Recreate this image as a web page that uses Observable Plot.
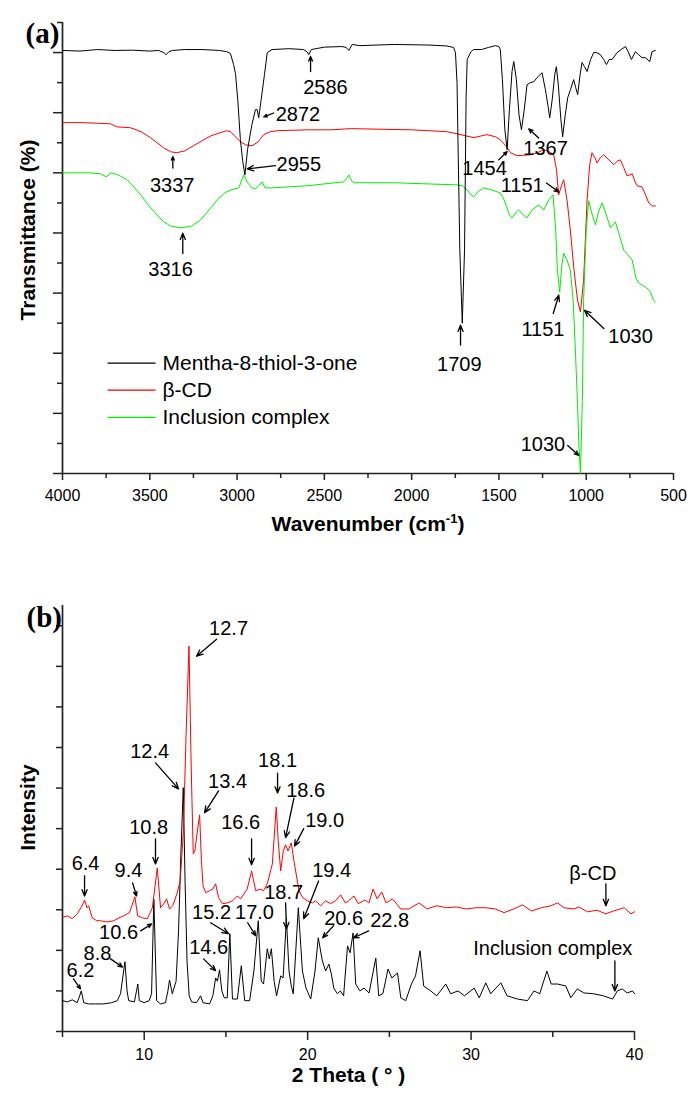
<!DOCTYPE html>
<html><head><meta charset="utf-8">
<script src="https://cdn.jsdelivr.net/npm/d3@7"></script>
<script src="https://cdn.jsdelivr.net/npm/@observablehq/plot@0.6"></script>
<style>body{margin:0;background:#fff;} svg{display:block;}</style>
</head><body><div id="chart"></div>
<script>
// ---------- FTIR (panel a): [wavenumber, transmittance units] ----------
const ftirMentha = [[4000,14.07],[3900,14.05],[3800,14.1],[3700,14.07],[3600,14.08],[3500,14.05],[3450,14.07],[3420,14.0],[3406,13.93],[3390,14.03],[3370,14.07],[3300,14.1],[3200,14.1],[3100,14.07],[3060,14.03],[3038,13.97],[3020,13.6],[3009,13.3],[2996,12.43],[2981,11.1],[2968,10.4],[2955,9.93],[2940,10.77],[2915,11.6],[2895,12.1],[2885,12.1],[2876,11.83],[2862,12.43],[2843,13.27],[2827,14.0],[2800,14.1],[2700,14.13],[2620,14.1],[2600,14.03],[2589,13.93],[2575,14.1],[2500,14.18],[2400,14.2],[2375,14.17],[2360,14.07],[2340,14.27],[2300,14.23],[2100,14.27],[1900,14.25],[1800,14.22],[1760,14.17],[1749,14.0],[1740,13.0],[1724,7.43],[1710,5.0],[1697,7.43],[1688,12.5],[1682,13.77],[1660,14.03],[1645,14.1],[1600,14.1],[1560,14.17],[1520,14.23],[1500,14.2],[1492,14.1],[1480,13.1],[1466,11.43],[1453,10.77],[1440,12.1],[1425,13.37],[1415,13.7],[1400,13.1],[1385,11.93],[1371,11.43],[1355,12.1],[1339,12.93],[1320,13.0],[1300,13.03],[1281,13.17],[1253,13.33],[1234,12.77],[1220,12.27],[1209,11.83],[1195,12.43],[1180,13.27],[1171,13.53],[1160,12.93],[1145,11.77],[1135,11.2],[1120,11.93],[1106,12.5],[1090,12.77],[1072,13.1],[1060,12.83],[1049,12.6],[1035,13.27],[1024,13.67],[1010,13.53],[995,13.37],[975,13.77],[957,14.0],[940,14.0],[919,13.93],[900,13.77],[884,13.6],[868,13.77],[852,13.77],[823,14.0],[800,14.1],[775,14.2],[760,14.03],[741,13.77],[718,14.03],[700,13.93],[680,13.83],[661,13.83],[636,13.7],[623,14.03],[604,14.07]];
const ftirBetaCD = [[4000,11.67],[3900,11.67],[3800,11.65],[3725,11.63],[3690,11.53],[3611,11.5],[3550,11.37],[3496,11.17],[3458,11.0],[3420,10.83],[3381,10.7],[3345,10.67],[3300,10.73],[3250,10.9],[3200,11.07],[3150,11.23],[3100,11.33],[3060,11.4],[3038,11.37],[3010,11.2],[2980,11.03],[2950,10.93],[2914,10.9],[2880,11.03],[2847,11.27],[2810,11.37],[2770,11.4],[2600,11.43],[2465,11.43],[2350,11.47],[2000,11.43],[1800,11.37],[1740,11.3],[1690,11.23],[1644,11.17],[1600,11.23],[1568,11.27],[1520,11.2],[1492,11.1],[1460,10.9],[1434,10.67],[1396,10.57],[1320,10.6],[1280,10.67],[1243,10.77],[1210,10.7],[1186,10.6],[1170,10.1],[1158,9.27],[1140,9.6],[1129,9.77],[1110,9.1],[1091,8.1],[1070,6.77],[1050,5.77],[1033,5.37],[1015,6.43],[995,9.1],[980,10.27],[967,10.67],[950,10.5],[938,10.33],[920,10.5],[900,10.6],[870,10.43],[842,10.27],[820,10.4],[804,10.43],[785,10.17],[766,9.9],[750,9.93],[737,9.97],[720,9.7],[709,9.57],[680,9.53],[660,9.27],[642,9.0],[620,8.9],[604,8.9]];
const ftirComplex = [[4000,10.0],[3850,10.0],[3782,9.97],[3750,9.87],[3720,10.0],[3680,9.93],[3630,9.77],[3590,9.53],[3553,9.27],[3500,8.87],[3458,8.6],[3420,8.37],[3381,8.23],[3320,8.17],[3260,8.23],[3210,8.43],[3160,8.77],[3114,9.1],[3070,9.33],[3038,9.43],[2990,9.5],[2962,9.93],[2940,9.67],[2915,9.5],[2895,9.47],[2876,9.57],[2856,9.7],[2840,9.5],[2800,9.5],[2600,9.57],[2389,9.7],[2370,9.83],[2360,9.93],[2340,9.7],[2322,9.67],[2100,9.67],[1900,9.63],[1740,9.6],[1710,9.57],[1682,9.43],[1660,9.27],[1644,9.2],[1620,9.37],[1587,9.5],[1540,9.43],[1492,9.33],[1470,9.1],[1440,8.6],[1425,8.5],[1400,8.7],[1387,8.77],[1360,8.6],[1339,8.5],[1310,8.77],[1272,8.93],[1243,8.77],[1215,9.1],[1190,9.27],[1175,8.1],[1165,6.77],[1152,6.03],[1140,6.9],[1129,7.33],[1110,7.1],[1091,6.77],[1075,5.77],[1062,4.1],[1050,2.33],[1043,1.1],[1033,0.0],[1022,2.43],[1015,5.77],[1000,8.1],[986,9.07],[965,8.6],[947,8.27],[930,8.7],[909,9.0],[885,8.6],[861,8.17],[833,8.37],[810,7.93],[785,7.43],[760,7.27],[737,7.1],[715,6.5],[699,6.33],[680,6.27],[661,6.2],[645,6.13],[632,6.03],[615,5.77],[604,5.7]];
const ftirSeries = ["Mentha-8-thiol-3-one", "β-CD", "Inclusion complex"];
const ftirXMajor = [4000, 3500, 3000, 2500, 2000, 1500, 1000, 500];
const ftirXMinor = [3750, 3250, 2750, 2250, 1750, 1250, 750];
const ftirYMajor = [0, 2, 4, 6, 8, 10, 12, 14];
const ftirYMinor = [1, 3, 5, 7, 9, 11, 13, 15];
const ftirNotes = [
  {label:"2586", x:2494, y:12.82, x1:2579, y1:13.37, x2:2579, y2:13.87},
  {label:"2872", x:2651, y:11.93, x1:2790, y1:11.99, x2:2847, y2:11.86},
  {label:"3337", x:3372, y:9.57, x1:3368, y1:10.16, x2:3368, y2:10.54},
  {label:"2955", x:2646, y:10.27, x1:2780, y1:10.24, x2:2942, y2:10.13},
  {label:"3316", x:3381, y:6.77, x1:3311, y1:7.32, x2:3311, y2:7.99},
  {label:"1454", x:1582, y:10.13, x1:1501, y1:10.43, x2:1453, y2:10.71},
  {label:"1367", x:1233, y:10.8, x1:1272, y1:11.16, x2:1329, y2:11.46},
  {label:"1151", x:1367, y:9.57, x1:1228, y1:9.66, x2:1157, y2:9.36},
  {label:"1151", x:1248, y:4.8, x1:1189, y1:5.32, x2:1157, y2:5.93},
  {label:"1030", x:746, y:4.57, x1:899, y1:4.82, x2:1010, y2:5.43},
  {label:"1709", x:1727, y:3.63, x1:1720, y1:4.27, x2:1720, y2:4.93},
  {label:"1030", x:1248, y:0.97, x1:1106, y1:0.93, x2:1042, y2:0.6}
];
const ftirLegend = [
  {name:"Mentha-8-thiol-3-one", y:3.67},
  {name:"β-CD", y:2.77},
  {name:"Inclusion complex", y:1.87}
];

// ---------- XRD (panel b): [2theta, intensity units] ----------
const xrdComplex = [[5.0,0.76],[5.3,0.73],[5.6,0.78],[5.9,0.71],[6.05,0.88],[6.15,1.0],[6.3,0.71],[6.6,0.68],[7.0,0.68],[7.5,0.68],[8.0,0.71],[8.35,0.76],[8.55,0.93],[8.7,1.37],[8.82,1.72],[8.95,1.0],[9.05,0.76],[9.4,0.73],[9.61,1.17],[9.7,0.76],[10.0,0.71],[10.3,0.76],[10.45,0.93],[10.59,3.26],[10.76,0.76],[11.0,0.68],[11.3,0.71],[11.45,1.0],[11.55,1.27],[11.72,0.93],[11.95,1.24],[12.1,2.48],[12.25,4.45],[12.39,6.01],[12.5,3.71],[12.62,1.74],[12.75,0.88],[12.9,0.73],[13.2,0.71],[13.45,0.88],[13.6,0.71],[14.0,0.68],[14.2,0.88],[14.37,1.32],[14.48,1.24],[14.61,1.52],[14.75,1.0],[14.9,0.83],[15.08,0.83],[15.24,2.41],[15.4,0.8],[15.7,0.8],[15.94,1.62],[16.15,0.76],[16.45,0.76],[16.71,1.49],[16.98,2.73],[17.16,1.24],[17.3,1.17],[17.53,2.04],[17.65,1.79],[17.78,2.04],[17.95,1.24],[18.1,0.88],[18.35,1.37],[18.5,1.32],[18.7,2.78],[18.86,1.49],[19.0,1.12],[19.12,0.93],[19.43,3.05],[19.68,1.49],[19.9,1.07],[20.19,0.8],[20.45,1.49],[20.65,2.31],[20.9,1.74],[21.1,1.49],[21.3,1.66],[21.45,1.42],[21.6,1.07],[21.82,0.93],[22.0,1.0],[22.2,0.88],[22.44,2.11],[22.6,1.94],[22.78,2.43],[22.94,1.17],[23.2,1.0],[23.45,1.07],[23.76,0.95],[24.17,1.81],[24.35,0.88],[24.6,0.93],[24.92,1.54],[25.15,1.32],[25.5,1.44],[25.7,0.83],[26.0,0.76],[26.35,1.17],[26.6,1.37],[26.88,1.99],[27.1,1.12],[27.53,1.0],[27.9,0.88],[28.45,1.17],[28.75,0.93],[29.2,1.0],[29.6,0.88],[30.19,1.07],[30.5,0.83],[30.9,1.2],[31.2,0.93],[31.82,1.2],[32.2,0.88],[32.84,0.8],[33.45,0.76],[33.85,1.0],[34.2,0.93],[34.64,1.49],[34.9,1.17],[35.3,1.17],[35.8,1.12],[36.1,0.83],[36.5,1.05],[36.9,0.95],[37.5,0.93],[38.1,0.88],[38.66,0.8],[38.95,1.0],[39.25,1.05],[39.55,0.95],[39.88,1.0],[40.0,0.93]];
const xrdBetaCD = [[5.0,2.81],[5.3,2.85],[5.6,2.78],[5.9,2.9],[6.2,3.1],[6.35,3.24],[6.5,3.05],[6.6,3.1],[6.82,2.8],[7.1,2.73],[7.33,2.73],[7.7,2.7],[8.14,2.73],[8.45,2.8],[8.75,2.85],[9.1,2.93],[9.43,3.32],[9.6,2.85],[9.9,2.8],[10.19,2.78],[10.5,3.05],[10.8,4.03],[11.0,3.05],[11.2,3.15],[11.37,3.27],[11.55,3.02],[11.75,3.1],[12.02,3.42],[12.2,3.71],[12.4,4.94],[12.55,7.16],[12.74,9.5],[12.88,6.42],[13.0,4.38],[13.1,4.45],[13.25,4.94],[13.39,5.34],[13.5,4.21],[13.6,3.59],[13.76,3.42],[14.0,3.47],[14.2,3.51],[14.37,3.64],[14.55,3.3],[14.78,3.15],[15.1,3.17],[15.4,3.22],[15.69,3.34],[15.9,3.27],[16.3,3.51],[16.57,3.96],[16.82,3.47],[17.1,3.51],[17.3,3.47],[17.53,3.64],[17.84,4.13],[18.08,5.53],[18.2,4.7],[18.35,3.96],[18.51,4.45],[18.65,4.6],[18.8,4.45],[19.0,4.65],[19.16,4.21],[19.47,3.47],[19.7,3.3],[19.98,3.22],[20.3,3.17],[20.49,3.22],[20.8,3.1],[21.1,3.22],[21.4,3.15],[21.7,3.22],[22.02,3.37],[22.3,3.17],[22.5,3.22],[22.84,3.34],[23.1,3.15],[23.5,3.24],[23.75,3.17],[24.0,3.51],[24.25,3.27],[24.53,3.44],[24.8,3.17],[25.19,3.27],[25.7,3.02],[26.2,3.02],[26.82,3.17],[27.3,3.02],[27.9,3.1],[28.5,3.05],[29.1,3.07],[29.7,3.02],[30.3,3.05],[30.9,3.05],[31.5,3.02],[32.02,2.93],[32.6,3.02],[33.15,3.12],[33.7,2.97],[34.3,3.05],[34.9,3.1],[35.29,3.17],[35.7,3.05],[36.3,3.02],[36.6,3.07],[37.12,2.95],[37.7,2.99],[38.24,2.9],[38.7,2.97],[39.37,3.05],[39.78,2.9],[40.0,2.95]];
const xrdXMajor = [10, 20, 30, 40];
const xrdXMinor = [5, 15, 25, 35];
const xrdYTicks = [0, 1, 2, 3, 4, 5, 6, 7, 8, 9, 10];
const xrdNotes = [
  {label:"12.7", x:15.16, y:9.94, x1:14.43, y1:9.67, x2:13.2, y2:9.25},
  {label:"12.4", x:10.33, y:6.91, x1:10.69, y1:6.62, x2:12.1, y2:5.98},
  {label:"13.4", x:15.1, y:6.17, x1:14.55, y1:5.93, x2:13.69, y2:5.39},
  {label:"18.1", x:18.16, y:6.67, x1:18.16, y1:6.37, x2:18.16, y2:5.88},
  {label:"18.6", x:19.88, y:5.93, x1:19.16, y1:5.75, x2:18.65, y2:4.78},
  {label:"19.0", x:21.04, y:5.19, x1:19.76, y1:5.0, x2:19.2, y2:4.57},
  {label:"16.6", x:15.9, y:5.14, x1:16.57, y1:4.75, x2:16.57, y2:4.11},
  {label:"10.8", x:10.27, y:5.02, x1:10.69, y1:4.75, x2:10.69, y2:4.13},
  {label:"6.4", x:6.41, y:4.13, x1:6.35, y1:3.84, x2:6.35, y2:3.34},
  {label:"9.4", x:9.04, y:3.96, x1:9.29, y1:3.66, x2:9.53, y2:3.34},
  {label:"19.4", x:21.47, y:3.96, x1:20.67, y1:3.71, x2:19.76, y2:2.78},
  {label:"18.7", x:18.53, y:3.42, x1:18.65, y1:3.17, x2:18.71, y2:2.53},
  {label:"15.2", x:14.12, y:2.93, x1:14.06, y1:2.68, x2:15.16, y2:2.41},
  {label:"17.0", x:16.75, y:2.93, x1:16.33, y1:2.68, x2:16.82, y2:2.36},
  {label:"10.6", x:8.43, y:2.43, x1:9.78, y1:2.48, x2:10.45, y2:2.65},
  {label:"14.6", x:13.94, y:2.06, x1:13.63, y1:1.79, x2:14.37, y2:1.5},
  {label:"8.8", x:7.14, y:1.93, x1:7.94, y1:1.79, x2:8.67, y2:1.59},
  {label:"6.2", x:6.1, y:1.5, x1:5.67, y1:1.3, x2:6.1, y2:1.05},
  {label:"20.6", x:22.2, y:2.78, x1:21.59, y1:2.61, x2:20.92, y2:2.31},
  {label:"22.8", x:25.02, y:2.73, x1:23.73, y1:2.48, x2:22.82, y2:2.31},
  {label:"β-CD", x:37.45, y:3.88, x1:38.25, y1:3.64, x2:38.25, y2:3.1},
  {label:"Inclusion complex", x:35.0, y:2.04, x1:38.8, y1:1.74, x2:38.8, y2:1.0}
];

// ---------- drawing ----------
const FONT = "'Liberation Sans', Arial, Helvetica, sans-serif";
const AXIS = "#222";
const NOTE_SIZE = 20;
const colors = {"Mentha-8-thiol-3-one": "#000000", "β-CD": "#ff0000", "Inclusion complex": "#00ee00"};
const rows = (arr) => arr.map(([x, y]) => ({x, y}));
const blankFmt = () => "";

const plotA = Plot.plot({
  width: 688, height: 548,
  marginLeft: 62, marginRight: 15, marginTop: 22, marginBottom: 75,
  x: {domain: [4000, 500]},
  y: {domain: [0, 15]},
  style: {fontFamily: FONT, fontSize: "16px", color: "#000", background: "#fff", overflow: "visible"},
  marks: [
    Plot.axisX({ticks: ftirXMajor, tickSize: 7, tickPadding: 9, tickFormat: d => String(d), fontSize: 16, label: null, stroke: AXIS, strokeWidth: 1.5}),
    Plot.axisX({ticks: ftirXMinor, tickSize: 5, tickFormat: blankFmt, label: null, stroke: AXIS, strokeWidth: 1.5}),
    Plot.axisY({ticks: ftirYMajor, tickSize: 9, tickFormat: blankFmt, label: null, stroke: AXIS, strokeWidth: 1.5}),
    Plot.axisY({ticks: ftirYMinor, tickSize: 5, tickFormat: blankFmt, label: null, stroke: AXIS, strokeWidth: 1.5}),
    Plot.ruleY([0], {stroke: AXIS, strokeWidth: 1.7}),
    Plot.ruleX([4000], {stroke: AXIS, strokeWidth: 1.7}),
    Plot.line(rows(ftirBetaCD), {x: "x", y: "y", stroke: colors[ftirSeries[1]], strokeWidth: 1}),
    Plot.line(rows(ftirComplex), {x: "x", y: "y", stroke: colors[ftirSeries[2]], strokeWidth: 1}),
    Plot.line(rows(ftirMentha), {x: "x", y: "y", stroke: colors[ftirSeries[0]], strokeWidth: 1}),
    Plot.arrow(ftirNotes, {x1: "x1", y1: "y1", x2: "x2", y2: "y2", stroke: "#000", strokeWidth: 1.3, headLength: 8, headAngle: 45}),
    Plot.text(ftirNotes, {x: "x", y: "y", text: "label", fontSize: NOTE_SIZE, fill: "#000"}),
    Plot.link(ftirLegend, {x1: 3742, x2: 3467, y1: "y", y2: "y", stroke: d => colors[d.name], strokeWidth: 1.2}),
    Plot.text(ftirLegend, {x: 3427, y: "y", text: "name", textAnchor: "start", fontSize: 21, fill: "#000"}),
    Plot.text(["Wavenumber (cm-1)"], {frameAnchor: "bottom", dy: 57, text: d => d, fontSize: 21, fontWeight: "bold", fill: "#000"}),
    Plot.text(["Transmittance (%)"], {x: [4000], y: [8.1], text: d => d, dx: -34, rotate: -90, fontSize: 21, fontWeight: "bold", fill: "#000"}),
    Plot.text(["(a)"], {frameAnchor: "top-left", dx: -37, dy: 0, text: d => d, fontSize: 29, fontWeight: "bold", fontFamily: "'Liberation Serif', 'Times New Roman', serif", fill: "#000"})
  ]
});

const plotB = Plot.plot({
  width: 688, height: 545,
  marginLeft: 62, marginRight: 54, marginTop: 57, marginBottom: 62,
  x: {domain: [5, 40]},
  y: {domain: [0, 10.5]},
  style: {fontFamily: FONT, fontSize: "16px", color: "#000", background: "#fff", overflow: "visible"},
  marks: [
    Plot.axisX({ticks: xrdXMajor, tickSize: 9, tickPadding: 8, tickFormat: d => String(d), fontSize: 16, label: null, stroke: AXIS, strokeWidth: 1.5}),
    Plot.axisX({ticks: xrdXMinor, tickSize: 6, tickFormat: blankFmt, label: null, stroke: AXIS, strokeWidth: 1.5}),
    Plot.axisY({ticks: xrdYTicks, tickSize: 6, tickFormat: blankFmt, label: null, stroke: AXIS, strokeWidth: 1.5}),
    Plot.ruleY([0], {stroke: AXIS, strokeWidth: 1.7}),
    Plot.ruleX([5], {stroke: AXIS, strokeWidth: 1.7}),
    Plot.line(rows(xrdComplex), {x: "x", y: "y", stroke: "#000", strokeWidth: 1}),
    Plot.line(rows(xrdBetaCD), {x: "x", y: "y", stroke: "#ff0000", strokeWidth: 1}),
    Plot.arrow(xrdNotes, {x1: "x1", y1: "y1", x2: "x2", y2: "y2", stroke: "#000", strokeWidth: 1.3, headLength: 8, headAngle: 45}),
    Plot.text(xrdNotes, {x: "x", y: "y", text: "label", fontSize: NOTE_SIZE, fill: "#000"}),
    Plot.text(["2 Theta ( ° )"], {frameAnchor: "bottom", dy: 50, text: d => d, fontSize: 21, fontWeight: "bold", fill: "#000"}),
    Plot.text(["Intensity"], {x: [5], y: [5.52], text: d => d, dx: -34, rotate: -90, fontSize: 21, fontWeight: "bold", fill: "#000"}),
    Plot.text(["(b)"], {frameAnchor: "top-left", dx: -36, dy: 1, text: d => d, fontSize: 29, fontWeight: "bold", fontFamily: "'Liberation Serif', 'Times New Roman', serif", fill: "#000"})
  ]
});

// superscript for cm-1
d3.select(plotA).selectAll("text").filter(function () { return this.textContent === "Wavenumber (cm-1)"; })
  .each(function () {
    const t = d3.select(this);
    t.text("Wavenumber (cm");
    t.append("tspan").attr("dy", -8).attr("font-size", 13).text("-1");
    t.append("tspan").attr("dy", 8).text(")");
  });

const root = document.getElementById("chart");
root.appendChild(plotA);
root.appendChild(plotB);
</script></body></html>
